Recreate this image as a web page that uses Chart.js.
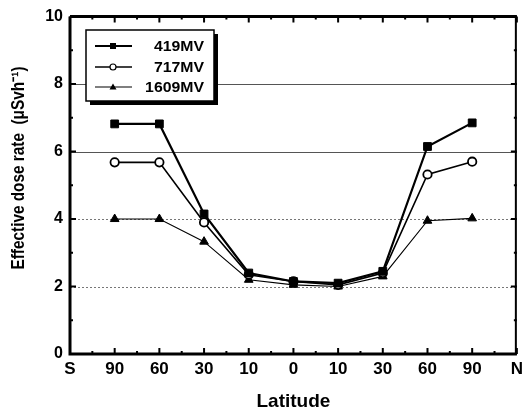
<!DOCTYPE html>
<html><head><meta charset="utf-8">
<script src="https://cdn.jsdelivr.net/npm/chart.js@4/dist/chart.umd.min.js"></script>
<style>html,body{margin:0;padding:0;background:#fff}#wrap{width:528px;height:413px}</style>
</head><body><div id="wrap"><canvas id="c" width="528" height="413"></canvas></div>
<script>
const categories = ['S','90','60','30','10','0','10','30','60','90','N'];
const series419 = [null, 6.82, 6.82, 4.15, 2.4, 2.15, 2.1, 2.45, 6.15, 6.85, null];
const series717 = [null, 5.68, 5.68, 3.9, 2.35, 2.15, 2.05, 2.4, 5.32, 5.7, null];
const series1609 = [null, 4.0, 4.0, 3.33, 2.2, 2.05, 2.0, 2.3, 3.95, 4.02, null];
const seriesNames = ['419MV','717MV','1609MV'];
const yTicks = [0,2,4,6,8,10];
const yTitle = 'Effective dose rate  (μSvh⁻¹)';
const xTitle = 'Latitude';
const FONT = "'Liberation Sans', Arial, sans-serif";

const framePlugin = {
  id:'frame',
  beforeDatasetsDraw(chart){
    const {ctx, chartArea:a, scales:{x,y}} = chart;
    ctx.save();
    [2,4,6,8].forEach(v=>{
      const py = Math.round(y.getPixelForValue(v))+0.5;
      ctx.beginPath();
      if (v<=4){ ctx.setLineDash([2,2]); ctx.strokeStyle='#777'; ctx.lineWidth=1; }
      else { ctx.setLineDash([]); ctx.strokeStyle='#555'; ctx.lineWidth=1; }
      ctx.moveTo(a.left, py); ctx.lineTo(a.right, py); ctx.stroke();
    });
    ctx.restore();
  },
  afterDatasetsDraw(chart){
    const {ctx, chartArea:a, scales:{x,y}} = chart;
    ctx.save();
    ctx.strokeStyle='#000';
    ctx.setLineDash([]);
    ctx.lineWidth=2;
    const n = categories.length;
    for (let i=0;i<n;i++){
      const px = x.getPixelForValue(i);
      ctx.beginPath();
      ctx.moveTo(px, a.bottom); ctx.lineTo(px, a.bottom-6);
      ctx.moveTo(px, a.top); ctx.lineTo(px, a.top+6);
      ctx.stroke();
      if (i<n-1){
        const mx = (px + x.getPixelForValue(i+1))/2;
        ctx.beginPath();
        ctx.moveTo(mx, a.bottom); ctx.lineTo(mx, a.bottom-3);
        ctx.moveTo(mx, a.top); ctx.lineTo(mx, a.top+3);
        ctx.stroke();
      }
    }
    for (let v=0; v<=10; v++){
      const py = y.getPixelForValue(v);
      const len = v%2===0 ? 6 : 3;
      ctx.beginPath();
      ctx.moveTo(a.left, py); ctx.lineTo(a.left+len, py);
      ctx.moveTo(a.right, py); ctx.lineTo(a.right-len, py);
      ctx.stroke();
    }
    ctx.lineWidth=3;
    ctx.beginPath();
    ctx.moveTo(a.left, a.top); ctx.lineTo(a.left, a.bottom); ctx.lineTo(a.right, a.bottom);
    ctx.moveTo(a.left, a.top); ctx.lineTo(a.right, a.top);
    ctx.stroke();
    ctx.lineWidth=2;
    ctx.beginPath(); ctx.moveTo(a.right-1, a.top); ctx.lineTo(a.right-1, a.bottom); ctx.stroke();
    // legend
    const lx=86, ly=30, lw=128, lh=71;
    ctx.fillStyle='#000';
    ctx.fillRect(lx+4, ly+4, lw, lh);
    ctx.fillStyle='#fff';
    ctx.fillRect(lx, ly, lw, lh);
    ctx.lineWidth=1.5;
    ctx.strokeRect(lx, ly, lw, lh);
    const rows=[46,67,87];
    chart.data.datasets.forEach((ds,i)=>{
      const ry = rows[i];
      ctx.beginPath();
      ctx.lineWidth = ds.borderWidth;
      ctx.strokeStyle='#000';
      ctx.moveTo(95, ry); ctx.lineTo(132, ry); ctx.stroke();
      const mx=113;
      ctx.lineWidth=1.2;
      if (ds.pointStyle==='rect'){ ctx.fillStyle='#000'; ctx.fillRect(mx-3, ry-3, 6, 6); }
      else if (ds.pointStyle==='circle'){ ctx.fillStyle='#fff'; ctx.beginPath(); ctx.arc(mx, ry, 3, 0, Math.PI*2); ctx.fill(); ctx.stroke(); }
      else { ctx.fillStyle='#000'; ctx.beginPath(); ctx.moveTo(mx, ry-3.5); ctx.lineTo(mx+3.5, ry+2.5); ctx.lineTo(mx-3.5, ry+2.5); ctx.closePath(); ctx.fill(); }
      ctx.fillStyle='#000';
      ctx.font = "bold 14px "+FONT;
      ctx.textAlign='right'; ctx.textBaseline='middle';
      ctx.save();
      ctx.translate(204, ry+1);
      ctx.scale(1.13, 1);
      ctx.fillText(ds.label, 0, 0);
      ctx.restore();
    });
    // y title
    ctx.save();
    ctx.translate(19, 168);
    ctx.rotate(-Math.PI/2);
    ctx.fillStyle='#000';
    ctx.font = "bold 18px "+FONT;
    ctx.textAlign='center'; ctx.textBaseline='middle';
    ctx.scale(203/ctx.measureText(yTitle).width, 1);
    ctx.fillText(yTitle, 0, 0);
    ctx.restore();
    ctx.restore();
  }
};

new Chart(document.getElementById('c'), {
  type:'line',
  data:{
    labels: categories,
    datasets:[
      {label:seriesNames[0], data:series419, borderColor:'#000', backgroundColor:'#000', borderWidth:2.2, pointStyle:'rect', pointRadius:5.5, pointBackgroundColor:'#000', pointBorderColor:'#000', pointBorderWidth:1},
      {label:seriesNames[1], data:series717, borderColor:'#000', backgroundColor:'#fff', borderWidth:1.6, pointStyle:'circle', pointRadius:4.2, pointBackgroundColor:'#fff', pointBorderColor:'#000', pointBorderWidth:1.8},
      {label:seriesNames[2], data:series1609, borderColor:'#000', backgroundColor:'#000', borderWidth:1.1, pointStyle:'triangle', pointRadius:5, pointBackgroundColor:'#000', pointBorderColor:'#000', pointBorderWidth:1}
    ]
  },
  options:{
    responsive:false, animation:false, devicePixelRatio:1,
    layout:{padding:{top:15, right:1, left:0, bottom:0}},
    plugins:{legend:{display:false}, tooltip:{enabled:false}},
    scales:{
      x:{
        type:'category', offset:false,
        grid:{display:false, drawTicks:false},
        border:{display:false},
        ticks:{color:'#000', font:{family:FONT, size:17, weight:'bold'}, padding:5, maxRotation:0, autoSkip:false},
        title:{display:true, text:xTitle, color:'#000', font:{family:FONT, size:19, weight:'bold'}, padding:{top:6, bottom:0}},
        afterFit(s){ s.height = 59; }
      },
      y:{
        min:0, max:10,
        afterBuildTicks(s){ s.ticks = yTicks.map(v=>({value:v})); },
        grid:{display:false, drawTicks:false},
        border:{display:false},
        ticks:{color:'#000', font:{family:FONT, size:16, weight:'bold'}, padding:7},
        title:{display:false},
        afterFit(s){ s.width = 70; }
      }
    }
  },
  plugins:[framePlugin]
});
</script></body></html>
